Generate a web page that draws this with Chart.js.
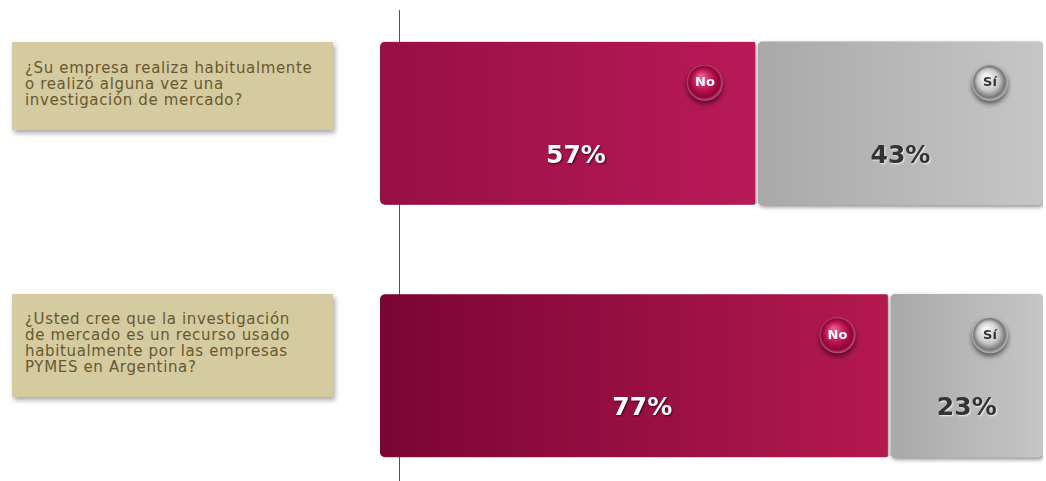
<!DOCTYPE html>
<html>
<head>
<meta charset="utf-8">
<script src="https://cdn.jsdelivr.net/npm/chart.js@4/dist/chart.umd.min.js"></script>
<style>
  html, body { margin: 0; padding: 0; background: #fff; width: 1046px; height: 481px; overflow: hidden; position: relative; }
  #wrap { position: absolute; left: 0; top: -3px; width: 1046px; height: 505px; }
  .q {
    position: absolute; left: 12px; width: 321px;
    background: #d4cba1; color: #67592f;
    font-family: "DejaVu Sans", Verdana, sans-serif; font-size: 15px; line-height: 16px; letter-spacing: 0.65px;
    box-sizing: border-box; padding: 0 4px 5px 13px;
    display: flex; align-items: center; white-space: nowrap;
    box-shadow: 2px 3px 5px rgba(0,0,0,0.35);
  }
</style>
</head>
<body>
<div class="q" id="q0" style="top:42px;height:88px;"></div>
<div class="q" id="q1" style="top:294px;height:103px;"></div>
<div id="wrap"><canvas id="myChart" width="1046" height="505"></canvas></div>
<script>
const questions = [
  '¿Su empresa realiza habitualmente<br>o realizó alguna vez una<br>investigación de mercado?',
  '¿Usted cree que la investigación<br>de mercado es un recurso usado<br>habitualmente por las empresas<br>PYMES en Argentina?'
];
const labels = ['P1', 'P2'];
const noValues = [57, 77];
const siValues = [43, 23];
const seriesNames = ['No', 'Sí'];

questions.forEach((q, i) => { document.getElementById('q' + i).innerHTML = q; });

const noColors = [['#970f45', '#b81a58'], ['#7a0534', '#b4194f']];
const siColors = ['#a9a9a9', '#c6c6c6'];
const radius = { topLeft: 5, topRight: 5, bottomLeft: 5, bottomRight: 5 };

function barGradient(ctx, stops) {
  const chart = ctx.chart;
  const xs = chart.scales.x;
  if (!chart.chartArea || !xs) return stops[0];
  let start = 0;
  for (let d = 0; d < ctx.datasetIndex; d++) start += chart.data.datasets[d].data[ctx.dataIndex];
  const end = start + chart.data.datasets[ctx.datasetIndex].data[ctx.dataIndex];
  const x0 = xs.getPixelForValue(start), x1 = xs.getPixelForValue(end);
  if (!isFinite(x0) || !isFinite(x1)) return stops[0];
  const g = chart.ctx.createLinearGradient(x0, 0, x1 + 1, 0);
  g.addColorStop(0, stops[0]);
  g.addColorStop(1, stops[1]);
  return g;
}

const extras = {
  id: 'extras',
  beforeDatasetsDraw(chart) {
    const c = chart.ctx;
    c.save();
    c.strokeStyle = '#555';
    c.lineWidth = 1;
    c.beginPath();
    c.moveTo(399.5, 13);
    c.lineTo(399.5, 505);
    c.stroke();
    c.restore();
    c.save();
    c.shadowColor = 'rgba(0,0,0,0.45)';
    c.shadowBlur = 4;
    c.shadowOffsetX = 1;
    c.shadowOffsetY = 2;
  },
  afterDatasetsDraw(chart) {
    const c = chart.ctx;
    c.restore();
    chart.data.datasets.forEach((ds, di) => {
      chart.getDatasetMeta(di).data.forEach((bar, i) => {
        const top = bar.y - bar.height / 2;
        const right = Math.max(bar.x, bar.base);
        const left = Math.min(bar.x, bar.base);
        const isNo = di === 0;
        // badge
        const bx = right - 53, by = top + 41, r = 18;
        c.save();
        c.shadowColor = 'rgba(0,0,0,0.55)';
        c.shadowBlur = 5;
        c.shadowOffsetY = 3;
        const rg = c.createRadialGradient(bx - 4, by - 6, 2, bx, by, r);
        if (isNo) { rg.addColorStop(0, '#e8588a'); rg.addColorStop(0.55, '#b8124e'); rg.addColorStop(0.85, '#8a0634'); rg.addColorStop(1, '#d05080'); }
        else { rg.addColorStop(0, '#f6f6f6'); rg.addColorStop(0.55, '#c8c8c8'); rg.addColorStop(0.85, '#777'); rg.addColorStop(1, '#bbb'); }
        c.fillStyle = rg;
        c.beginPath(); c.arc(bx, by, r, 0, Math.PI * 2); c.fill();
        c.restore();
        c.save();
        c.font = 'bold 13px "DejaVu Sans", Verdana, sans-serif';
        c.textAlign = 'center'; c.textBaseline = 'middle';
        c.fillStyle = isNo ? '#fff' : '#333';
        c.fillText(ds.label, bx, by);
        // percentage
        c.font = 'bold 25px "DejaVu Sans", Verdana, sans-serif';
        const px = (left + right) / 2 + (isNo ? 7 : 0), py = bar.y + 33;
        c.shadowColor = isNo ? 'rgba(40,0,10,0.8)' : 'rgba(255,255,255,0.8)';
        c.shadowOffsetX = 1; c.shadowOffsetY = 1; c.shadowBlur = 2;
        c.fillStyle = isNo ? '#fff' : '#333';
        c.fillText(ds.data[i] + '%', px, py);
        c.restore();
      });
    });
  }
};

new Chart(document.getElementById('myChart'), {
  type: 'bar',
  data: {
    labels: labels,
    datasets: [
      {
        label: seriesNames[0],
        data: noValues,
        backgroundColor: (ctx) => barGradient(ctx, noColors[ctx.dataIndex] || noColors[0]),
        borderColor: '#fff',
        borderWidth: { right: 3, left: 0, top: 0, bottom: 0 },
        borderSkipped: false,
        borderRadius: radius,
        barThickness: 163
      },
      {
        label: seriesNames[1],
        data: siValues,
        backgroundColor: (ctx) => barGradient(ctx, siColors),
        borderWidth: 0,
        borderSkipped: false,
        borderRadius: radius,
        barThickness: 163
      }
    ]
  },
  options: {
    indexAxis: 'y',
    responsive: false,
    animation: false,
    devicePixelRatio: 1,
    layout: { padding: { left: 380, right: 3, top: 0, bottom: 0 } },
    plugins: { legend: { display: false }, tooltip: { enabled: false } },
    scales: {
      x: { stacked: true, min: 0, max: 100, display: false },
      y: { stacked: true, display: false }
    }
  },
  plugins: [extras]
});
</script>
</body>
</html>
